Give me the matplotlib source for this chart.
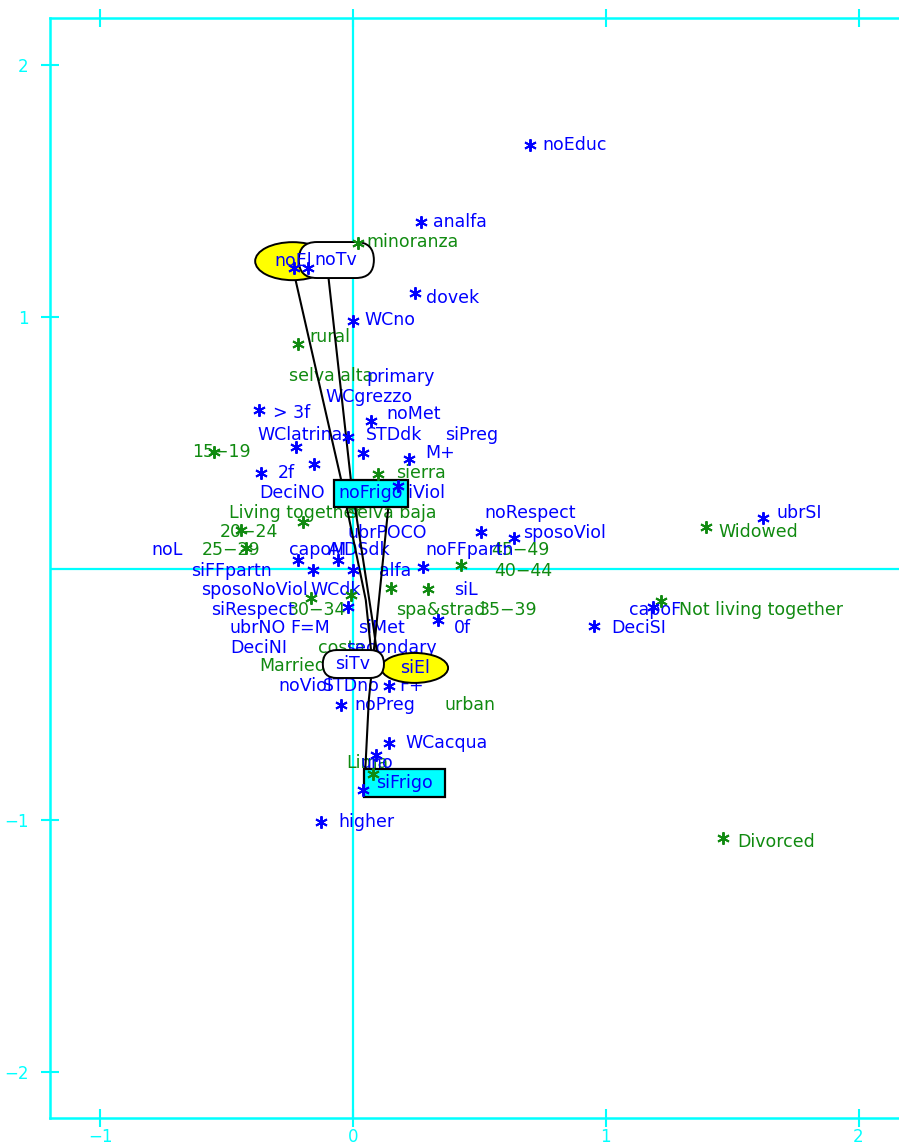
import matplotlib
matplotlib.use("Agg")
import matplotlib.pyplot as plt
from matplotlib.patches import Ellipse, FancyBboxPatch, Rectangle

# row categories (green) and column categories (blue) of the correspondence map
green_labels = ["minoranza", "rural", "selva alta", "15\u221219", "sierra",
                "Living together", "selva baja", "20\u221224", "25\u221229",
                "45\u221249", "40\u221244", "30\u221234", "spa&strad", "35\u221239",
                "costa", "Married", "urban", "Lima", "Widowed",
                "Not living together", "Divorced"]
green_lx = [0.055, -0.174, -0.253, -0.634, 0.170, -0.491, -0.020, -0.527, -0.598,
            0.547, 0.558, -0.257, 0.170, 0.499, -0.139, -0.372, 0.364, -0.028,
            1.446, 1.291, 1.521]
green_ly = [1.297, 0.920, 0.765, 0.463, 0.379, 0.221, 0.221, 0.145, 0.073,
            0.073, -0.010, -0.165, -0.165, -0.165, -0.316, -0.387, -0.542, -0.773,
            0.145, -0.165, -1.086]
green_px = [0.020, -0.218, -0.550, 0.099, -0.198, -0.444, -0.424, 0.428, -0.166,
            -0.008, 0.150, 0.297, 1.398, 1.220, 1.465, 0.079]
green_py = [1.293, 0.892, 0.463, 0.375, 0.185, 0.153, 0.081, 0.014, -0.117,
            -0.105, -0.077, -0.081, 0.165, -0.129, -1.070, -0.816]

blue_labels = ["noEduc", "analfa", "dovek", "WCno", "primary", "WCgrezzo", "> 3f",
               "noMet", "WClatrina", "STDdk", "siPreg", "M+", "2f", "DeciNO",
               "siViol", "noRespect", "ubrPOCO", "sposoViol", "ubrSI", "noL",
               "capoM", "AIDSdk", "noFFpartn", "siFFpartn", "alfa", "sposoNoViol",
               "WCdk", "siL", "siRespect", "ubrNO", "F=M", "siMet", "0f", "DeciSI",
               "capoF", "DeciNI", "secondary", "noViol", "STDno", "F+", "noPreg",
               "WCacqua", "uno", "higher"]
blue_lx = [0.749, 0.317, 0.289, 0.044, 0.055, -0.107, -0.317, 0.131, -0.376, 0.051,
           0.364, 0.285, -0.297, -0.372, 0.182, 0.519, -0.020, 0.673, 1.675, -0.796,
           -0.253, -0.099, 0.285, -0.642, 0.103, -0.602, -0.166, 0.400, -0.562,
           -0.487, -0.246, 0.020, 0.400, 1.022, 1.093, -0.487, -0.028, -0.293,
           -0.119, 0.182, 0.004, 0.206, 0.032, -0.059]
blue_ly = [1.682, 1.376, 1.074, 0.987, 0.761, 0.681, 0.618, 0.614, 0.530, 0.530,
           0.530, 0.459, 0.379, 0.300, 0.300, 0.221, 0.141, 0.141, 0.221, 0.073,
           0.073, 0.073, 0.073, -0.010, -0.010, -0.085, -0.085, -0.085, -0.165,
           -0.236, -0.236, -0.236, -0.236, -0.236, -0.165, -0.316, -0.316, -0.467,
           -0.467, -0.467, -0.542, -0.693, -0.773, -1.007]
blue_px = [0.701, 0.269, 0.246, 0.000, -0.372, 0.071, -0.020, -0.226, -0.154, 0.040,
           0.222, -0.364, 0.178, 0.507, 0.638, 1.624, 0.954, 1.188, 0.277, 0.337,
           -0.218, -0.059, -0.158, 0.000, -0.020, 0.143, -0.048, 0.143, 0.091,
           0.040, -0.127, -0.234, -0.178]
blue_py = [1.682, 1.376, 1.094, 0.983, 0.630, 0.586, 0.522, 0.483, 0.415, 0.459,
           0.435, 0.379, 0.328, 0.145, 0.121, 0.201, -0.228, -0.153, 0.006, -0.205,
           0.034, 0.034, -0.006, -0.006, -0.153, -0.467, -0.542, -0.693, -0.741,
           -0.880, -1.007, 1.194, 1.194]

# highlighted categories: yellow ellipses and white rounded tags
ell_labels = ["noEl", "siEl"]
ell_x = [-0.238, 0.244]
ell_y = [1.221, -0.395]
ell_w = [0.297, 0.265]
ell_h = [0.151, 0.119]
tag_labels = ["noTv", "siTv"]
tag_x = [-0.214, -0.119]
tag_y = [1.154, -0.435]
tag_w = [0.297, 0.242]
tag_h = [0.143, 0.111]
tag_tx = [-0.067, 0.000]
box_labels = ["noFrigo", "siFrigo"]
box_x = [-0.075, 0.044]
box_y = [0.246, -0.908]
box_w = [0.293, 0.321]
box_h = [0.107, 0.111]

# trajectories no -> si
traj_el_x = [-0.234, -0.048, 0.051, 0.079]
traj_el_y = [1.178, 0.359, -0.125, -0.395]
traj_tv_x = [-0.099, -0.008, 0.083, 0.103]
traj_tv_y = [1.178, 0.352, -0.244, -0.395]
traj_frigo_x = [0.139, 0.103, 0.063, 0.051, 0.044]
traj_frigo_y = [0.232, -0.125, -0.522, -0.761, -0.880]

CYAN = "#00FFFF"
BLUE = "#0000FF"
GREEN = "#108A10"
FS = 12.5

fig = plt.figure(figsize=(8.99, 11.46), dpi=100)
ax = fig.add_axes([50 / 899, 28 / 1146, 849 / 899, 1100 / 1146])
ax.set_xlim(-1.198, 2.16)
ax.set_ylim(-2.183, 2.187)

ax.axhline(0, color=CYAN, lw=1.6, zorder=0)
ax.axvline(0, color=CYAN, lw=1.6, zorder=0)

for s in ["left", "top", "bottom"]:
    ax.spines[s].set_color(CYAN)
    ax.spines[s].set_linewidth(1.8)
ax.spines["right"].set_visible(False)

ax.set_xticks([-1, 0, 1, 2])
ax.set_xticklabels(["\u22121", "0", "1", "2"])
ax.set_yticks([-2, -1, 1, 2])
ax.set_yticklabels(["\u22122", "\u22121", "1", "2"])
ax.tick_params(axis="x", which="both", top=True, bottom=True, labeltop=False,
               direction="inout", length=13, width=1.5, color=CYAN,
               labelcolor=CYAN, labelsize=12, pad=1)
ax.tick_params(axis="y", which="both", left=True, right=False,
               direction="inout", length=13, width=1.5, color=CYAN,
               labelcolor=CYAN, labelsize=12, pad=9)

star = dict(marker=(6, 2, 0), ms=9, mew=1.4, ls="none")
ax.plot(green_px, green_py, color=GREEN, **star, zorder=9)
ax.plot(blue_px, blue_py, color=BLUE, **star, zorder=9)

for t, x, y in zip(green_labels, green_lx, green_ly):
    ax.text(x, y, t, color=GREEN, fontsize=FS, ha="left", va="center", zorder=4)
for t, x, y in zip(blue_labels, blue_lx, blue_ly):
    ax.text(x, y, t, color=BLUE, fontsize=FS, ha="left", va="center", zorder=4)

for xs, ys in [(traj_el_x, traj_el_y), (traj_tv_x, traj_tv_y),
               (traj_frigo_x, traj_frigo_y)]:
    ax.plot(xs, ys, color="black", lw=1.5, zorder=5)

for t, x, y, w, h in zip(ell_labels, ell_x, ell_y, ell_w, ell_h):
    ax.add_patch(Ellipse((x, y), w, h, fc="yellow", ec="black", lw=1.4, zorder=6))
    ax.text(x, y, t, color=BLUE, fontsize=FS, ha="center", va="center", zorder=8)

for t, x, y, w, h, tx in zip(tag_labels, tag_x, tag_y, tag_w, tag_h, tag_tx):
    ax.add_patch(FancyBboxPatch((x, y), w, h,
                                boxstyle=f"round,pad=0,rounding_size={h / 2}",
                                fc="white", ec="black", lw=1.4, zorder=7))
    ax.text(tx, y + h / 2, t, color=BLUE, fontsize=FS, ha="center", va="center",
            zorder=8)

for t, x, y, w, h in zip(box_labels, box_x, box_y, box_w, box_h):
    ax.add_patch(Rectangle((x, y), w, h, fc=CYAN, ec="black", lw=1.6, zorder=6))
    ax.text(x + w / 2, y + h / 2, t, color=BLUE, fontsize=FS, ha="center",
            va="center", zorder=8)

fig.savefig("out.png", dpi=100)
